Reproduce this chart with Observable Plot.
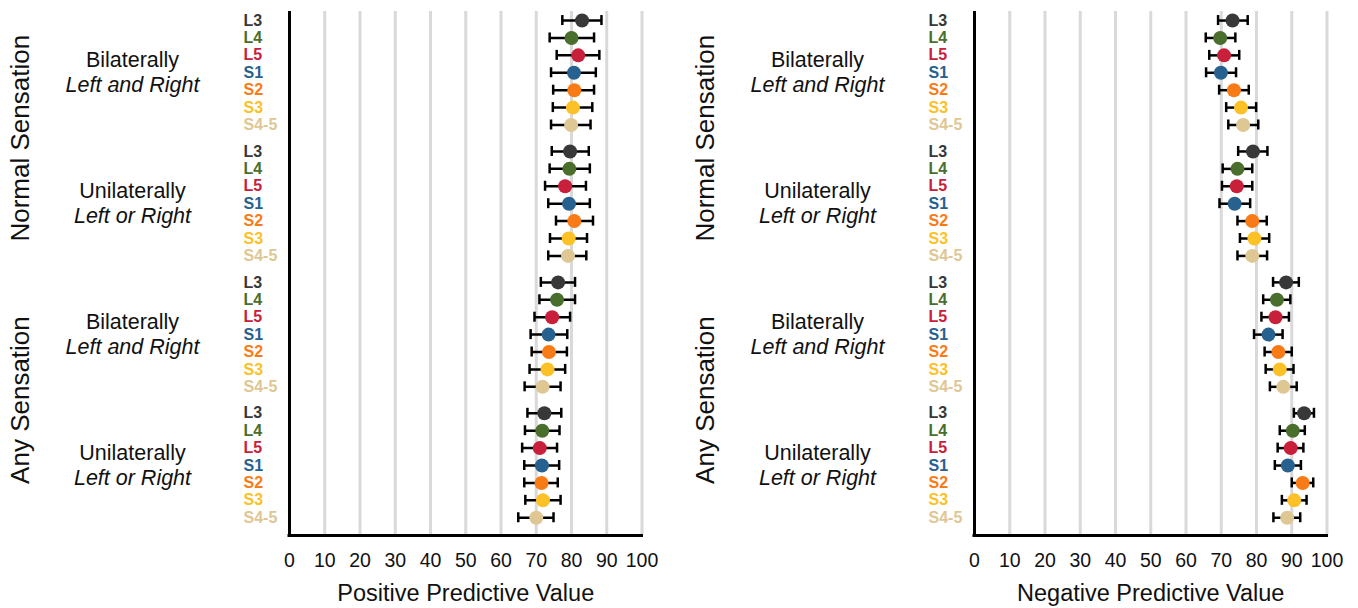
<!DOCTYPE html>
<html>
<head>
<meta charset="utf-8">
<script src="https://cdn.jsdelivr.net/npm/d3@7"></script>
<script src="https://cdn.jsdelivr.net/npm/@observablehq/plot@0.6"></script>
<style>
  html, body { margin: 0; padding: 0; background: #fff; }
  #wrap { display: flex; width: 1358px; height: 608px; }
  #wrap svg { display: block; }
</style>
</head>
<body>
<div id="wrap"></div>
<script>
// ---- data ----
const levels = ["L3", "L4", "L5", "S1", "S2", "S3", "S4-5"];
const levelColors = ["#383838", "#4a6e2c", "#c8203a", "#27618f", "#f97b16", "#fdc128", "#dfc794"];
const groupSensation = ["Normal Sensation", "Normal Sensation", "Any Sensation", "Any Sensation"];
const groupSide = ["Bilaterally", "Unilaterally", "Bilaterally", "Unilaterally"];
const groupDetail = ["Left and Right", "Left or Right", "Left and Right", "Left or Right"];
const xTicks = [0, 10, 20, 30, 40, 50, 60, 70, 80, 90, 100];
const gridTicks = [10, 20, 30, 40, 50, 60, 70, 80, 90, 100];

const ppvEstimate = [
  [83.0, 80.0, 81.9, 80.7, 80.8, 80.4, 79.9],
  [79.6, 79.4, 78.2, 79.3, 80.8, 79.2, 79.0],
  [76.2, 75.9, 74.5, 73.5, 73.6, 73.2, 71.8],
  [72.3, 71.7, 71.0, 71.6, 71.5, 71.9, 70.0]
];
const ppvLower = [
  [77.4, 73.8, 75.8, 74.2, 74.8, 74.7, 74.2],
  [74.4, 73.8, 72.5, 73.4, 75.6, 73.9, 73.4],
  [71.3, 70.9, 69.5, 68.4, 68.7, 68.1, 66.7],
  [67.5, 66.8, 66.0, 66.6, 66.6, 66.9, 64.9]
];
const ppvUpper = [
  [88.5, 86.4, 87.9, 86.9, 86.4, 85.9, 85.4],
  [84.9, 85.2, 84.1, 85.2, 86.1, 84.4, 84.2],
  [81.0, 81.0, 79.6, 78.8, 78.7, 78.2, 76.9],
  [77.1, 76.6, 75.9, 76.5, 76.1, 76.9, 74.9]
];
const npvEstimate = [
  [73.2, 69.7, 70.8, 69.9, 73.6, 75.6, 76.2],
  [79.0, 74.6, 74.4, 73.8, 78.8, 79.4, 78.8],
  [88.4, 85.8, 85.4, 83.4, 86.2, 86.6, 87.6],
  [93.5, 90.3, 89.7, 88.9, 93.1, 90.7, 88.7]
];
const npvLower = [
  [69.1, 65.6, 66.6, 65.7, 69.4, 71.4, 72.0],
  [74.8, 70.4, 70.2, 69.5, 74.6, 75.3, 74.6],
  [84.7, 81.9, 81.4, 79.3, 82.3, 82.6, 83.8],
  [90.6, 86.6, 86.0, 85.2, 90.0, 87.2, 84.8]
];
const npvUpper = [
  [77.5, 74.0, 75.1, 74.2, 77.8, 79.9, 80.5],
  [83.1, 78.8, 78.8, 78.2, 82.9, 83.6, 83.0],
  [92.0, 89.6, 89.2, 87.4, 90.0, 90.5, 91.4],
  [96.3, 93.7, 93.3, 92.6, 96.1, 94.2, 92.4]
];

// ---- layout helpers ----
const GROUP_STEP = 7.52; // rows per group incl. gap
const FONT = "'Liberation Sans', Arial, Helvetica, sans-serif";

function buildRows(est, lo, hi) {
  const rows = [];
  est.forEach((arr, g) => arr.forEach((v, i) => rows.push({
    g, i, pos: g * GROUP_STEP + i, level: levels[i], color: levelColors[i],
    est: v, lo: lo[g][i], hi: hi[g][i]
  })));
  return rows;
}

const groupRows = groupSide.map((s, g) => ({
  g, side: s, detail: groupDetail[g], sensation: groupSensation[g],
  pos: g * GROUP_STEP + (levels.length - 1) / 2
}));
const sensationRows = Array.from(d3.group(groupRows, d => d.sensation), ([name, arr]) => ({
  name, pos: d3.mean(arr, d => d.pos)
}));

const yDomain = [29.58, -0.52];

function panel(rows, label, marginLeft, marginRight) {
  return Plot.plot({
    width: 679,
    height: 608,
    marginLeft, marginRight,
    marginTop: 11,
    marginBottom: 73,
    style: { fontFamily: FONT, background: "#fff", overflow: "visible" },
    x: { domain: [0, 100] },
    y: { domain: yDomain, axis: null },
    marks: [
      Plot.ruleX(gridTicks, { stroke: "#d9d9d9", strokeWidth: 3 }),
      Plot.ruleX([0], { stroke: "#000", strokeWidth: 3 }),
      Plot.ruleY([yDomain[0]], { stroke: "#000", strokeWidth: 3, strokeLinecap: "square" }),
      Plot.axisX({ ticks: xTicks, tickSize: 0, tickPadding: 18, fontSize: 19.5, label: null, fill: "#111" }),
      Plot.text([label], { frameAnchor: "bottom", lineAnchor: "middle", dy: 58, fontSize: 23.5, fill: "#111" }),
      Plot.ruleY(rows, { y: "pos", x1: "lo", x2: "hi", stroke: "#000", strokeWidth: 2.5 }),
      Plot.ruleX(rows, { x: "lo", y1: "pos", y2: "pos", insetTop: -5, insetBottom: -5, stroke: "#000", strokeWidth: 2.5 }),
      Plot.ruleX(rows, { x: "hi", y1: "pos", y2: "pos", insetTop: -5, insetBottom: -5, stroke: "#000", strokeWidth: 2.5 }),
      Plot.dot(rows, { x: "est", y: "pos", r: 7, fill: "color", stroke: "none" }),
      Plot.text(rows, { y: "pos", text: "level", fill: "color", frameAnchor: "left", dx: -46, textAnchor: "start", fontSize: 16, fontWeight: "bold" }),
      Plot.text(groupRows, { y: "pos", text: "side", frameAnchor: "left", dx: -157, dy: -12.5, textAnchor: "middle", fontSize: 21.5, fill: "#111" }),
      Plot.text(groupRows, { y: "pos", text: "detail", frameAnchor: "left", dx: -157, dy: 12.5, textAnchor: "middle", fontSize: 21.5, fontStyle: "italic", fill: "#111" }),
      Plot.text(sensationRows, { y: "pos", text: "name", frameAnchor: "left", dx: -269, rotate: -90, textAnchor: "middle", fontSize: 26, fill: "#111" })
    ]
  });
}

const wrap = document.getElementById("wrap");
wrap.appendChild(panel(buildRows(ppvEstimate, ppvLower, ppvUpper), "Positive Predictive Value", 289, 37.5));
wrap.appendChild(panel(buildRows(npvEstimate, npvLower, npvUpper), "Negative Predictive Value", 295, 31.5));
</script>
</body>
</html>
